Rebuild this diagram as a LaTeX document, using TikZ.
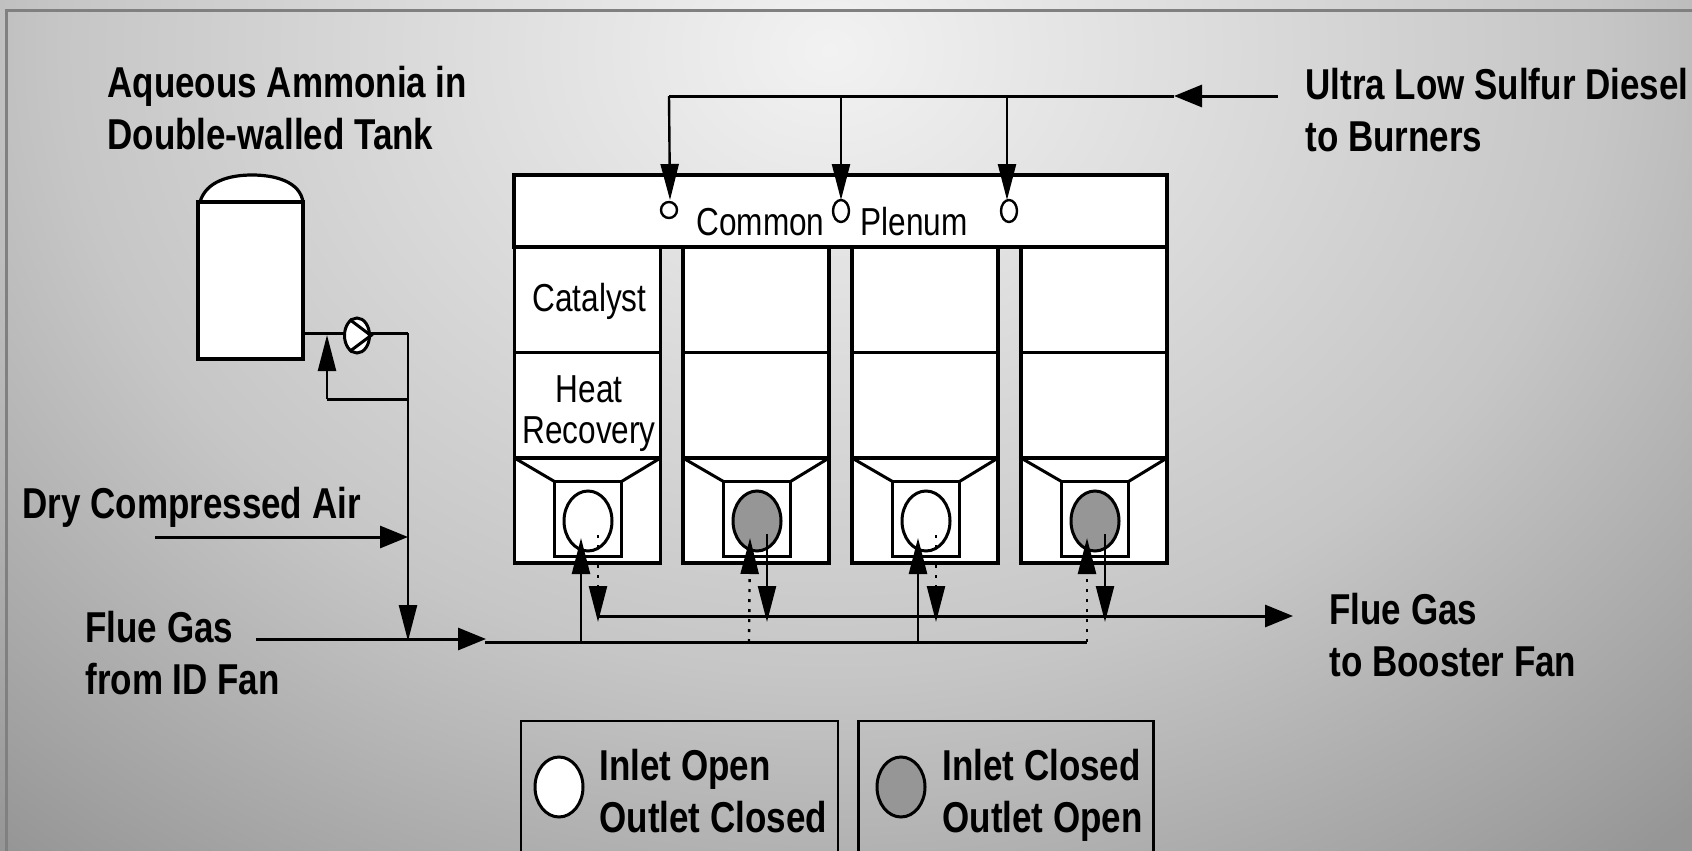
\documentclass[tikz,border=0pt]{standalone}
\usepackage{fontspec}
\usepackage{xcolor}
\usepackage{tikz}
\usetikzlibrary{arrows.meta,shapes.geometric}
\setmainfont[FakeStretch=0.81]{Liberation Sans}
\definecolor{closedcol}{RGB}{150,150,150}
\definecolor{framecol}{RGB}{128,128,128}
\definecolor{platein}{RGB}{242,242,242}
\definecolor{platemid}{RGB}{198,198,198}
\definecolor{plateedge}{RGB}{160,160,160}
\definecolor{plateout}{RGB}{150,150,150}
\pgfdeclareradialshading{plate}{\pgfpointorigin}{color(0bp)=(platein); color(15bp)=(platemid); color(23bp)=(plateedge); color(25bp)=(plateout); color(50bp)=(plateout)}
\tikzset{
  pipe/.style={line width=1.5pt},
  riserpipe/.style={line width=1.2pt},
  darrow/.style={-{Triangle[length=18pt,width=9pt]},line width=1.2pt},
  harrow/.style={-{Triangle[length=14pt,width=11pt]},line width=1.5pt},
  dotline/.style={dash pattern=on 1.5pt off 3.5pt},
  box/.style={draw,fill=white,line width=1.6pt,inner sep=0pt,outer sep=0pt},
  column/.style={box,minimum width=73,minimum height=53},
  hopper/.style={box,minimum width=73,minimum height=52.5},
  duct/.style={box,minimum width=33.5,minimum height=37.5},
  valve/.style={ellipse,draw,line width=1.5pt,inner sep=0pt,minimum width=24,minimum height=30},
  opened/.style={valve,fill=white},
  closed/.style={valve,fill=closedcol},
  legend/.style={draw,line width=1.4pt,inner sep=0pt},
  label/.style={font=\bfseries\fontsize{21.6}{26}\selectfont,inner sep=0pt,anchor=base west,align=left},
  tag/.style={font=\fontsize{19.5}{20.5}\selectfont,inner sep=0pt,anchor=base,align=center}
}
\begin{document}
\begin{tikzpicture}[x=0.5pt,y=-0.5pt]
  \useasboundingbox (0,0) rectangle (1692,851);
  \clip (0,0) rectangle (1692,851);
  % background
  \fill[plateout] (0,0) rectangle (1692,851);
  \shade[shading=plate] (830,50) ellipse (1280 and 1040);
  \draw[framecol,line width=1.5pt] (6.5,851) -- (6.5,10) -- (1692,10);

  % tank and pump
  \coordinate (domeleft) at (200,202);
  \coordinate (domeright) at (303,202);
  \path[draw,fill=white,line width=1.6pt] (domeleft) .. controls (206,181) and (230,175) .. (252,175)
    .. controls (276,175) and (300,182) .. (domeright);
  \node[box,minimum width=52.5,minimum height=78.5] (tank) at (250.5,280.5) {};
  \coordinate (tankout) at (303,333);
  \coordinate (riser) at (408,333);
  \coordinate (bypass) at (408,399);
  \coordinate (bypassup) at (327,399);
  \coordinate (bypasstip) at (327,335);
  \coordinate (airjoin) at (408,537);
  \coordinate (gasjoin) at (408,641);
  \node[opened,minimum width=12.5,minimum height=17.5] (pump) at (357,335.5) {};
  \draw[pipe] (pump.115)--(pump.east)--(pump.245);
  \draw[pipe] (tankout)--(pump.west |- tankout);
  \draw[pipe] (pump.east |- riser)--(riser);
  \draw[riserpipe] (riser)--(bypass);
  \draw[pipe] (bypass)--(bypassup);
  \draw[darrow] (bypassup)--(bypasstip);
  \draw[darrow] (bypass)--(gasjoin);

  % plenum
  \node[box,minimum width=326.5,minimum height=36] (plenum) at (840.5,211) {};
  \node[tag,anchor=base west] (common) at (696,235) {Common};
  \node[tag,anchor=base west] (plenumname) at (860,235) {Plenum};

  % columns
  \node[column] (cat1) at (587.5,300) {};
  \node[column] (cat2) at (756,300) {};
  \node[column] (cat3) at (925,300) {};
  \node[column] (cat4) at (1094,300) {};
  \node[column] (heat1) at (587.5,405.5) {};
  \node[column] (heat2) at (756,405.5) {};
  \node[column] (heat3) at (925,405.5) {};
  \node[column] (heat4) at (1094,405.5) {};
  \node[tag] (catname) at (589.5,311) {Catalyst};
  \node[tag] (heatname) at (589,402) {Heat};
  \node[tag] (recname) at (589,443) {Recovery};

  % hoppers
  \node[hopper] (hop1) at (587.5,510.5) {};
  \node[hopper] (hop2) at (756,510.5) {};
  \node[hopper] (hop3) at (925,510.5) {};
  \node[hopper] (hop4) at (1094,510.5) {};
  \node[duct] (duct1) at (588,519) {};
  \node[duct] (duct2) at (757,519) {};
  \node[duct] (duct3) at (926,519) {};
  \node[duct] (duct4) at (1095,519) {};
  \draw[pipe] (hop1.north west)--(duct1.north west);
  \draw[pipe] (hop1.north east)--(duct1.north east);
  \draw[pipe] (hop2.north west)--(duct2.north west);
  \draw[pipe] (hop2.north east)--(duct2.north east);
  \draw[pipe] (hop3.north west)--(duct3.north west);
  \draw[pipe] (hop3.north east)--(duct3.north east);
  \draw[pipe] (hop4.north west)--(duct4.north west);
  \draw[pipe] (hop4.north east)--(duct4.north east);
  \node[opened] (valve1) at (588,521) {};
  \node[closed] (valve2) at (757,521) {};
  \node[opened] (valve3) at (926,521) {};
  \node[closed] (valve4) at (1095,521) {};

  % diesel
  \coordinate (oilstart) at (1278,96);
  \coordinate (oilhead) at (1174,96);
  \coordinate (oil1) at (669,96);
  \coordinate (oil2) at (841,96);
  \coordinate (oil3) at (1007,96);
  \coordinate (tip1) at (670,200);
  \coordinate (tip2) at (841,200);
  \coordinate (tip3) at (1007,200);
  \draw[harrow] (oilstart)--(oilhead);
  \draw[pipe] (oilhead)--(oil1);
  \draw[darrow] (oil1)--(tip1);
  \draw[darrow] (oil2)--(tip2);
  \draw[darrow] (oil3)--(tip3);
  \node[circle,draw,line width=1.2pt,minimum size=8,inner sep=0pt] (burner1) at (669,210) {};
  \node[ellipse,draw,line width=1.2pt,minimum width=8,minimum height=11,inner sep=0pt] (burner2) at (841,211) {};
  \node[ellipse,draw,line width=1.2pt,minimum width=8,minimum height=11,inner sep=0pt] (burner3) at (1009,211) {};

  % flue gas
  \coordinate (gasstart) at (256,639);
  \coordinate (gashead) at (486,639);
  \coordinate (mainin) at (485,642);
  \coordinate (mainend) at (1087,642);
  \coordinate (in1) at (581,642);
  \coordinate (in2) at (749,642);
  \coordinate (in3) at (918,642);
  \coordinate (in1tip) at (581,538);
  \coordinate (in2tip) at (750,538);
  \coordinate (in3tip) at (918,538);
  \coordinate (in4tip) at (1087,538);
  \coordinate (out1) at (598,535);
  \coordinate (out2) at (767,534);
  \coordinate (out3) at (936,535);
  \coordinate (out4) at (1105,534);
  \coordinate (out1tip) at (598,622);
  \coordinate (out2tip) at (767,622);
  \coordinate (out3tip) at (936,622);
  \coordinate (out4tip) at (1105,622);
  \coordinate (colstart) at (598,616);
  \coordinate (colend) at (1293,616);
  \draw[harrow] (gasstart)--(gashead);
  \draw[pipe] (mainin)--(mainend);
  \draw[harrow] (colstart)--(colend);
  \draw[darrow] (in1)--(in1tip);
  \draw[darrow,dotline] (in2)--(in2tip);
  \draw[darrow] (in3)--(in3tip);
  \draw[darrow,dotline] (mainend)--(in4tip);
  \draw[darrow,dotline] (out1)--(out1tip);
  \draw[darrow] (out2)--(out2tip);
  \draw[darrow,dotline] (out3)--(out3tip);
  \draw[darrow] (out4)--(out4tip);
  \coordinate (airstart) at (155,537);
  \draw[harrow] (airstart)--(airjoin);

  % legend
  \node[legend,minimum width=158.5,minimum height=80] (legopen) at (679.5,801) {};
  \node[legend,minimum width=147.5,minimum height=80] (legclosed) at (1006,801) {};
  \node[opened] (keyopen) at (559,787) {};
  \node[closed] (keyclosed) at (901,787) {};
  \node[label] (opentext) at (599,832) {Inlet Open\\Outlet Closed};
  \node[label] (closedtext) at (942,832) {Inlet Closed\\Outlet Open};

  % labels
  \node[label] (ammonia) at (107,149) {Aqueous Ammonia in\\Double-walled Tank};
  \node[label] (diesel) at (1305,151) {Ultra Low Sulfur Diesel\\to Burners};
  \node[label] (air) at (22,518) {Dry Compressed Air};
  \node[label] (gasin) at (85,694) {Flue Gas\\from ID Fan};
  \node[label] (gasout) at (1329,676) {Flue Gas\\to Booster Fan};
\end{tikzpicture}
\end{document}
